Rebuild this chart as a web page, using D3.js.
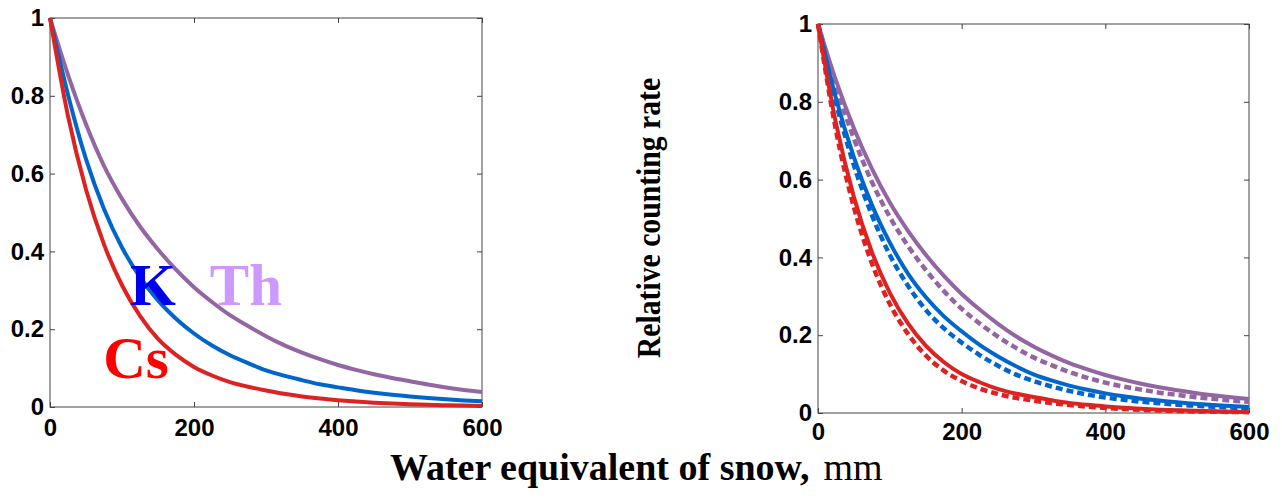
<!DOCTYPE html>
<html>
<head>
<meta charset="utf-8">
<script src="https://cdn.jsdelivr.net/npm/d3@7"></script>
<style>
  body { margin: 0; background: #fff; }
  svg { display: block; }
  .domain { display: none; }
</style>
</head>
<body>
<div id="chart"></div>
<script>
// snow water equivalent, mm
const xValues = [0, 25, 50, 75, 100, 125, 150, 175, 200, 225, 250, 275, 300,
  325, 350, 375, 400, 425, 450, 475, 500, 525, 550, 575, 600];

// left panel
const csLeft = [1, 0.748, 0.559, 0.418, 0.313, 0.234, 0.175, 0.134, 0.103, 0.081, 0.064, 0.052, 0.0425,
  0.0339, 0.0271, 0.0218, 0.0176, 0.014, 0.0111, 0.0089, 0.0071, 0.0057, 0.0046, 0.0036, 0.0028];
const kLeft = [1, 0.803, 0.637, 0.509, 0.41, 0.334, 0.274, 0.227, 0.189, 0.158, 0.133, 0.113, 0.0942,
  0.0805, 0.0691, 0.0584, 0.0505, 0.0429, 0.0366, 0.0312, 0.0267, 0.0229, 0.0197, 0.0169, 0.0146];
const thLeft = [1, 0.854, 0.727, 0.62, 0.535, 0.464, 0.405, 0.353, 0.308, 0.27, 0.236, 0.208, 0.182,
  0.159, 0.14, 0.123, 0.108, 0.0955, 0.0843, 0.0746, 0.0661, 0.0577, 0.0503, 0.0439, 0.0383];

// right panel, solid and dashed
const csSolid = [1, 0.745, 0.555, 0.414, 0.309, 0.231, 0.173, 0.131, 0.1, 0.079, 0.062, 0.05, 0.041,
  0.033, 0.026, 0.021, 0.017, 0.0135, 0.0108, 0.0086, 0.0069, 0.0055, 0.0044, 0.0035, 0.0028];
const csDashed = [1, 0.727, 0.529, 0.385, 0.28, 0.204, 0.148, 0.109, 0.082, 0.063, 0.049, 0.039, 0.0318,
  0.0254, 0.0205, 0.0162, 0.0129, 0.0104, 0.0081, 0.0064, 0.0052, 0.0041, 0.0033, 0.0026, 0.0021];
const kSolid = [1, 0.809, 0.657, 0.535, 0.438, 0.359, 0.298, 0.249, 0.21, 0.175, 0.146, 0.121, 0.0995,
  0.0837, 0.0705, 0.0596, 0.0505, 0.0429, 0.0366, 0.032, 0.0274, 0.0235, 0.0208, 0.0179, 0.0155];
const kDashed = [1, 0.798, 0.637, 0.509, 0.406, 0.328, 0.265, 0.218, 0.181, 0.149, 0.122, 0.0992, 0.0821,
  0.0682, 0.0568, 0.0474, 0.0397, 0.0343, 0.0289, 0.0252, 0.0214, 0.0187, 0.016, 0.0141, 0.0121];
const thSolid = [1, 0.855, 0.732, 0.628, 0.541, 0.469, 0.407, 0.353, 0.306, 0.266, 0.23, 0.198, 0.171,
  0.148, 0.128, 0.112, 0.0977, 0.0857, 0.0753, 0.0663, 0.0584, 0.0515, 0.0455, 0.0403, 0.0357];
const thDashed = [1, 0.84, 0.705, 0.594, 0.504, 0.43, 0.368, 0.314, 0.268, 0.23, 0.197, 0.168, 0.143,
  0.123, 0.105, 0.0904, 0.0782, 0.0679, 0.0601, 0.0523, 0.0466, 0.0407, 0.0364, 0.032, 0.0287];

const xTicks = [0, 200, 400, 600];
const yTicks = [0, 0.2, 0.4, 0.6, 0.8, 1];
const yTickLabels = ["0", "0.2", "0.4", "0.6", "0.8", "1"];

const colors = { cs: "#dd2222", k: "#0066cc", th: "#9366a3" };
const serif = "'Liberation Serif', 'Times New Roman', serif";

const svg = d3.select("#chart").append("svg")
  .attr("width", 1282)
  .attr("height", 498);

function styleAxis(sel) {
  sel.selectAll(".tick line").attr("stroke", "#444");
  sel.selectAll(".tick text")
    .attr("fill", "#000")
    .attr("font-family", "'Liberation Sans', Arial, sans-serif")
    .attr("font-weight", "bold")
    .attr("font-size", 24);
}

function makePanel(box, series, xPad, yPad) {
  const x = d3.scaleLinear().domain([0, 600]).range([box.left, box.right]);
  const y = d3.scaleLinear().domain([0, 1]).range([box.bottom, box.top]);
  const g = svg.append("g");

  // box with inward ticks on all four sides
  g.append("rect")
    .attr("x", box.left).attr("y", box.top)
    .attr("width", box.right - box.left).attr("height", box.bottom - box.top)
    .attr("fill", "none").attr("stroke", "#444").attr("stroke-width", 1);

  g.append("g")
    .attr("transform", `translate(0,${box.bottom})`)
    .call(d3.axisBottom(x).tickValues(xTicks).tickSize(-5).tickPadding(xPad).tickFormat(d3.format("d")))
    .call(styleAxis);
  g.append("g")
    .attr("transform", `translate(0,${box.top})`)
    .call(d3.axisTop(x).tickValues(xTicks).tickSize(-5).tickFormat(""))
    .call(styleAxis);
  g.append("g")
    .attr("transform", `translate(${box.left},0)`)
    .call(d3.axisLeft(y).tickValues(yTicks).tickSize(-5).tickPadding(yPad).tickFormat((d, i) => yTickLabels[i]))
    .call(styleAxis);
  g.append("g")
    .attr("transform", `translate(${box.right},0)`)
    .call(d3.axisRight(y).tickValues(yTicks).tickSize(-5).tickFormat(""))
    .call(styleAxis);

  const line = d3.line()
    .x((d, i) => x(xValues[i]))
    .y(d => y(d))
    .curve(d3.curveMonotoneX);

  series.forEach(s => {
    g.append("path")
      .datum(s.values)
      .attr("d", line)
      .attr("fill", "none")
      .attr("stroke", s.color)
      .attr("stroke-width", s.dashed ? 4.5 : 4)
      .attr("stroke-dasharray", s.dashed ? "7,4" : null);
  });

  return { x, y, g };
}

const left = makePanel({ left: 50, right: 482, top: 18, bottom: 407 }, [
  { values: thLeft, color: colors.th },
  { values: kLeft, color: colors.k },
  { values: csLeft, color: colors.cs }
], 12, 6);

makePanel({ left: 818, right: 1249, top: 24, bottom: 413 }, [
  { values: thSolid, color: colors.th },
  { values: thDashed, color: colors.th, dashed: true },
  { values: kSolid, color: colors.k },
  { values: kDashed, color: colors.k, dashed: true },
  { values: csSolid, color: colors.cs },
  { values: csDashed, color: colors.cs, dashed: true }
], 10, 6);

// element labels in the left panel
const labels = [
  { text: "K", x: 111, y: 0.262, color: "#0000ee" },
  { text: "Th", x: 222, y: 0.262, color: "#cc99ff" },
  { text: "Cs", x: 74, y: 0.075, color: "#ff0000" }
];
left.g.selectAll(".elem")
  .data(labels)
  .enter().append("text")
  .attr("x", d => left.x(d.x))
  .attr("y", d => left.y(d.y))
  .attr("fill", d => d.color)
  .style("font-family", serif)
  .style("font-weight", "bold")
  .style("font-size", "59px")
  .text(d => d.text);

// axis titles
svg.append("text")
  .attr("transform", "translate(660,218) rotate(-90) scale(0.9,1)")
  .attr("text-anchor", "middle")
  .style("font-family", serif)
  .style("font-weight", "bold")
  .style("font-size", "33px")
  .text("Relative counting rate");

const xTitle = svg.append("text")
  .attr("x", 390)
  .attr("y", 480)
  .style("font-family", serif)
  .style("font-size", "38px");
xTitle.append("tspan").style("font-weight", "bold").text("Water equivalent of snow,");
xTitle.append("tspan").attr("dx", 14).text("mm");
</script>
</body>
</html>
